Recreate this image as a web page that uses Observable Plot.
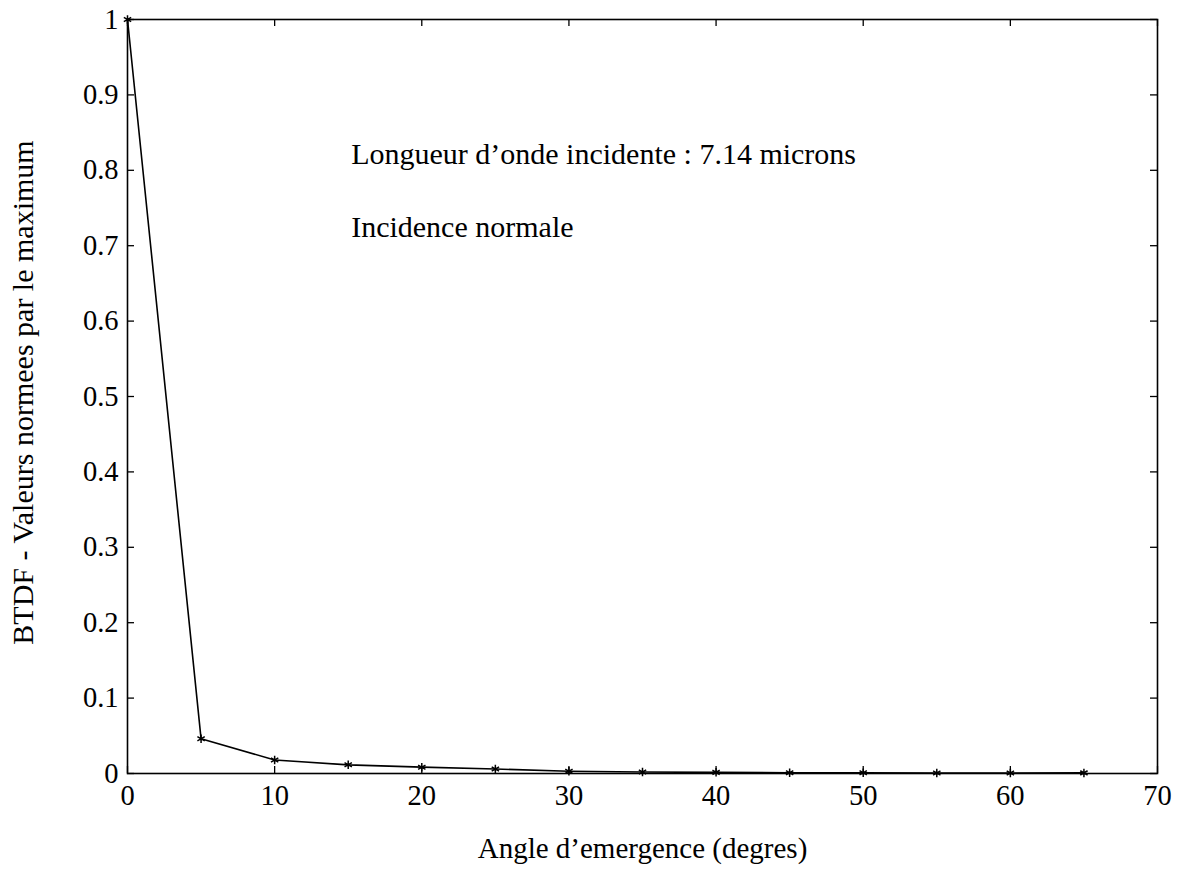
<!DOCTYPE html>
<html>
<head>
<meta charset="utf-8">
<script src="https://cdn.jsdelivr.net/npm/d3@7"></script>
<script src="https://cdn.jsdelivr.net/npm/@observablehq/plot@0.6"></script>
<style>
  html, body { margin: 0; padding: 0; background: #fff; }
  svg { display: block; }
  svg text, svg g { font-family: "Liberation Serif", "Times New Roman", serif !important; }
</style>
</head>
<body>
<div id="chart"></div>
<script>
const angles = [0, 5, 10, 15, 20, 25, 30, 35, 40, 45, 50, 55, 60, 65];
const btdf = [1, 0.046, 0.018, 0.0115, 0.0084, 0.006, 0.003, 0.002, 0.0015, 0.001, 0.001, 0.0006, 0.0006, 0.0008];
const xTicks = [0, 10, 20, 30, 40, 50, 60, 70];
const yTicks = [0, 0.1, 0.2, 0.3, 0.4, 0.5, 0.6, 0.7, 0.8, 0.9, 1];
const notes = ["Longueur d\u2019onde incidente : 7.14 microns", "Incidence normale"];
const noteX = [15.2, 15.2];
const noteY = [0.809, 0.711];
const xLabel = "Angle d\u2019emergence (degres)";
const yLabel = "BTDF - Valeurs normees par le maximum";

const data = angles.map((a, i) => ({angle: a, value: btdf[i]}));
const noteData = notes.map((t, i) => ({text: t, x: noteX[i], y: noteY[i]}));

const W = 1178, H = 879;
const mT = 19, mB = 106, mL = 127, mR = 21;
const plotH = H - mT - mB, plotW = W - mL - mR;
const tl = 7;
const font = "Liberation Serif";

const chart = Plot.plot({
  width: W,
  height: H,
  marginTop: mT, marginBottom: mB, marginLeft: mL, marginRight: mR,
  style: {fontFamily: font, background: "#fff", color: "#000"},
  x: {domain: [0, 70]},
  y: {domain: [0, 1]},
  marks: [
    // inward ticks on all four sides
    Plot.tickX(xTicks, {x: d => d, insetTop: plotH - tl, stroke: "#000", strokeWidth: 1.3}),
    Plot.tickX(xTicks, {x: d => d, insetBottom: plotH - tl, stroke: "#000", strokeWidth: 1.3}),
    Plot.tickY(yTicks, {y: d => d, insetRight: plotW - tl, stroke: "#000", strokeWidth: 1.3}),
    Plot.tickY(yTicks, {y: d => d, insetLeft: plotW - tl, stroke: "#000", strokeWidth: 1.3}),
    Plot.axisX({ticks: xTicks, tickSize: 0, tickPadding: 11, fontSize: 28.5, fontFamily: font, label: null, tickFormat: d => String(d)}),
    Plot.axisY({ticks: yTicks, tickSize: 0, tickPadding: 9, fontSize: 28.5, fontFamily: font, label: null, tickFormat: d => String(d)}),
    Plot.frame({stroke: "#000", strokeWidth: 1.6}),
    Plot.line(data, {x: "angle", y: "value", stroke: "#000", strokeWidth: 1.6}),
    Plot.dot(data, {x: "angle", y: "value", symbol: "asterisk", r: 4, stroke: "#000", strokeWidth: 1.5}),
    Plot.text(noteData, {x: "x", y: "y", text: "text", textAnchor: "start", lineAnchor: "bottom", fontSize: 30, fontFamily: font, fill: "#000", dy: 0}),
    Plot.text([xLabel], {text: d => d, frameAnchor: "bottom", textAnchor: "middle", lineAnchor: "middle", dy: 75, fontSize: 29, fontFamily: font, fill: "#000"}),
    Plot.text([yLabel], {text: d => d, frameAnchor: "left", textAnchor: "middle", lineAnchor: "middle", dx: -104, dy: -4, rotate: -90, fontSize: 30, fontFamily: font, fill: "#000"})
  ]
});
document.getElementById("chart").appendChild(chart);
</script>
</body>
</html>
